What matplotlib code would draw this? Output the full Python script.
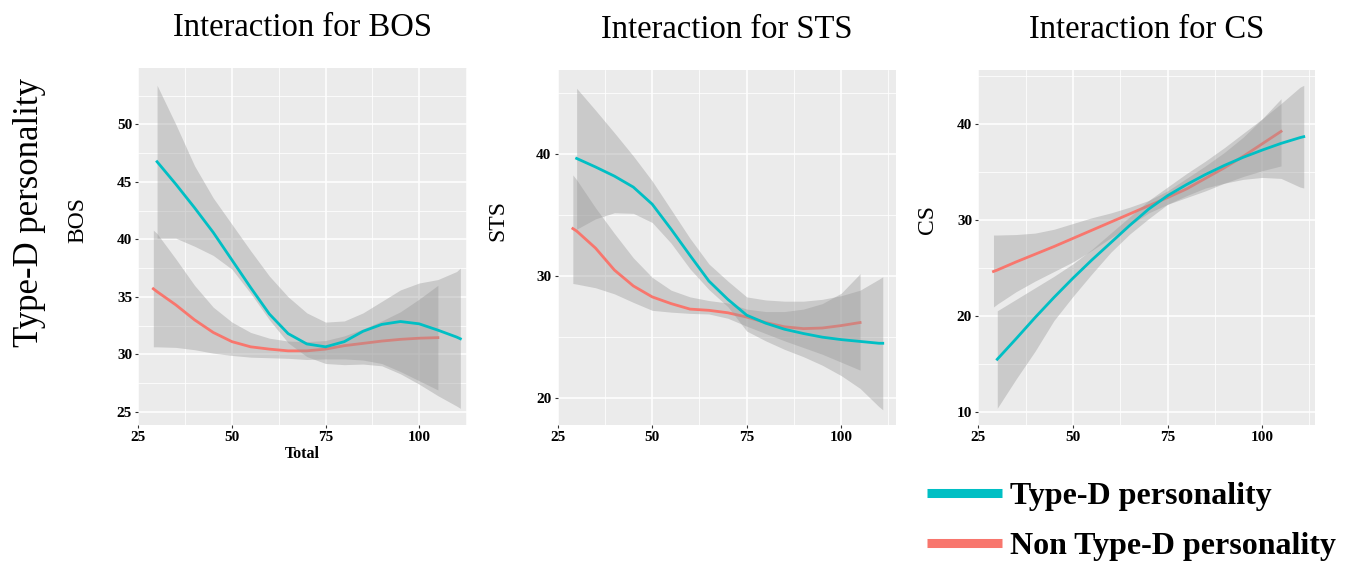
import matplotlib
matplotlib.use('Agg')
import matplotlib.pyplot as plt
from matplotlib.lines import Line2D
from matplotlib.ticker import MultipleLocator

plt.rcParams.update({'font.family': 'serif', 'font.serif': ['Liberation Serif', 'DejaVu Serif']})

# x positions of the read-off points
x_td = [30, 35, 40, 45, 50, 55, 60, 65, 70, 75, 80, 85, 90, 95, 100, 105, 110, 111]
x_non = [29, 30, 35, 40, 45, 50, 55, 60, 65, 70, 75, 80, 85, 90, 95, 100, 105]

# BOS
bos_td = [46.75, 44.8, 42.75, 40.6, 38.2, 35.8, 33.5, 31.8, 30.9, 30.65, 31.1, 32.0, 32.6, 32.85, 32.65, 32.1, 31.5, 31.35]
bos_td_hi = [53.4, 50.0, 46.4, 43.6, 41.3, 39.0, 36.8, 35.0, 33.6, 32.8, 32.9, 33.6, 34.6, 35.6, 36.2, 36.5, 37.2, 37.5]
bos_td_lo = [40.1, 40.1, 39.4, 38.6, 37.4, 35.3, 33.0, 31.0, 29.8, 29.2, 29.1, 29.15, 29.0, 28.3, 27.4, 26.4, 25.5, 25.3]
bos_non = [35.7, 35.45, 34.3, 33.0, 31.9, 31.1, 30.65, 30.45, 30.3, 30.3, 30.45, 30.75, 30.95, 31.15, 31.3, 31.4, 31.45]
bos_non_hi = [40.8, 40.5, 38.3, 36.0, 34.1, 32.8, 31.9, 31.4, 31.15, 31.1, 31.2, 31.6, 32.2, 32.9, 33.7, 34.8, 36.0]
bos_non_lo = [30.65, 30.65, 30.6, 30.4, 30.1, 29.9, 29.75, 29.7, 29.65, 29.55, 29.6, 29.6, 29.5, 29.2, 28.5, 27.7, 26.9]

# STS
sts_td = [39.65, 38.95, 38.2, 37.3, 35.9, 33.85, 31.7, 29.6, 28.1, 26.8, 26.15, 25.65, 25.3, 25.0, 24.8, 24.65, 24.5, 24.5]
sts_td_hi = [45.4, 43.6, 41.75, 39.85, 37.8, 35.45, 33.1, 31.0, 29.6, 28.3, 28.05, 27.95, 27.95, 28.1, 28.4, 28.85, 29.75, 29.95]
sts_td_lo = [33.85, 34.7, 35.2, 35.15, 34.4, 32.7, 30.6, 28.9, 27.5, 25.5, 24.7, 24.0, 23.4, 22.7, 21.85, 20.8, 19.3, 19.05]
sts_non = [33.9, 33.7, 32.3, 30.5, 29.2, 28.3, 27.75, 27.3, 27.2, 27.0, 26.65, 26.2, 25.85, 25.7, 25.75, 25.95, 26.2]
sts_non_hi = [38.3, 37.9, 35.6, 33.5, 31.5, 29.9, 28.85, 28.3, 28.0, 27.8, 27.3, 27.1, 27.1, 27.3, 27.75, 28.6, 30.2]
sts_non_lo = [29.4, 29.35, 29.05, 28.55, 27.85, 27.2, 27.05, 26.95, 26.9, 26.55, 25.9, 25.3, 24.7, 24.15, 23.6, 22.95, 22.3]

# CS
cs_td = [15.45, 17.6, 19.8, 21.9, 23.9, 25.8, 27.6, 29.4, 31.1, 32.5, 33.65, 34.7, 35.65, 36.5, 37.25, 37.95, 38.55, 38.65]
cs_td_hi = [20.5, 21.7, 22.9, 24.1, 25.4, 26.9, 28.6, 30.3, 32.0, 33.4, 34.8, 36.1, 37.5, 39.0, 40.5, 42.1, 43.8, 44.0]
cs_td_lo = [10.35, 13.4, 16.3, 19.5, 22.0, 24.35, 26.6, 28.5, 30.1, 31.6, 32.5, 33.3, 33.8, 34.2, 34.4, 34.3, 33.4, 33.3]
cs_non = [24.6, 24.75, 25.6, 26.4, 27.2, 28.05, 28.9, 29.75, 30.6, 31.45, 32.3, 33.2, 34.3, 35.4, 36.6, 37.9, 39.2]
cs_non_hi = [28.4, 28.4, 28.45, 28.6, 29.0, 29.6, 30.2, 30.7, 31.3, 32.0, 33.0, 34.3, 35.6, 37.0, 38.6, 40.5, 42.6]
cs_non_lo = [20.9, 21.2, 22.5, 23.6, 24.6, 25.6, 26.8, 28.1, 29.4, 30.7, 31.6, 32.3, 33.0, 33.8, 34.5, 35.1, 35.6]

teal = '#00BFC4'
red = '#F8766D'

panels = [
    dict(title='Interaction for BOS', ylab='BOS', td=(bos_td, bos_td_lo, bos_td_hi), non=(bos_non, bos_non_lo, bos_non_hi),
         rect=[0.1018, 0.2451, 0.2419, 0.6341], xlim=(25, 112.8), ylim=(23.85, 54.9), ymaj=5, ylab_xy=(-0.152, 0.574)),
    dict(title='Interaction for STS', ylab='STS', td=(sts_td, sts_td_lo, sts_td_hi), non=(sts_non, sts_non_lo, sts_non_hi),
         rect=[0.4104, 0.2451, 0.2489, 0.6306], xlim=(25, 114.5), ylim=(17.8, 46.9), ymaj=10, ylab_xy=(-0.147, 0.577)),
    dict(title='Interaction for CS', ylab='CS', td=(cs_td, cs_td_lo, cs_td_hi), non=(cs_non, cs_non_lo, cs_non_hi),
         rect=[0.7199, 0.2451, 0.2478, 0.6306], xlim=(25, 114), ylim=(8.6, 45.6), ymaj=10, ylab_xy=(-0.12, 0.58)),
]

fig = plt.figure(figsize=(13.59, 5.63), dpi=100)

for i, p in enumerate(panels):
    ax = fig.add_axes(p['rect'])
    ax.set_facecolor('#EBEBEB')
    for s in ax.spines.values():
        s.set_visible(False)

    # ggplot draws each group's ribbon then its line
    y, lo, hi = p['non']
    ax.fill_between(x_non, lo, hi, color='#999999', alpha=0.4, lw=0, zorder=2)
    ax.plot(x_non, y, color=red, lw=2, zorder=3)
    y, lo, hi = p['td']
    ax.fill_between(x_td, lo, hi, color='#999999', alpha=0.4, lw=0, zorder=4)
    ax.plot(x_td, y, color=teal, lw=2, zorder=5)

    ax.set_xlim(*p['xlim'])
    ax.set_ylim(*p['ylim'])
    ax.xaxis.set_major_locator(MultipleLocator(25))
    ax.xaxis.set_minor_locator(MultipleLocator(12.5))
    ax.yaxis.set_major_locator(MultipleLocator(p['ymaj']))
    ax.yaxis.set_minor_locator(MultipleLocator(p['ymaj'] / 2))
    ax.grid(which='major', color='white', lw=1.1, zorder=1)
    ax.grid(which='minor', color='white', lw=0.55, zorder=1)
    ax.set_axisbelow(True)
    ax.tick_params(which='major', length=2.5, width=0.8, color='#333333', pad=2, labelsize=11)
    ax.tick_params(which='minor', length=0)
    plt.setp(ax.get_xticklabels() + ax.get_yticklabels(), fontweight='bold')

    ax.set_title(p['title'], fontsize=23.5, pad=23)
    ax.set_ylabel(p['ylab'], fontsize=17)
    ax.yaxis.set_label_coords(*p['ylab_xy'])
    if i == 0:
        ax.set_xlabel('Total', fontsize=11.5, fontweight='bold', labelpad=1)

fig.text(0.022, 0.623, 'Type-D personality', rotation=90, fontsize=25, ha='center', va='center')

handles = [Line2D([], [], color=teal, lw=6.5, solid_capstyle='butt'),
           Line2D([], [], color=red, lw=6.5, solid_capstyle='butt')]
fig.legend(handles, ['Type-D personality', 'Non Type-D personality'], loc='upper left',
           bbox_to_anchor=(0.682, 0.144), frameon=False, borderpad=0, borderaxespad=0,
           handlelength=2.35, handletextpad=0.25, labelspacing=0.63,
           prop={'weight': 'bold', 'size': 23})

fig.savefig('out.png', dpi=100)
